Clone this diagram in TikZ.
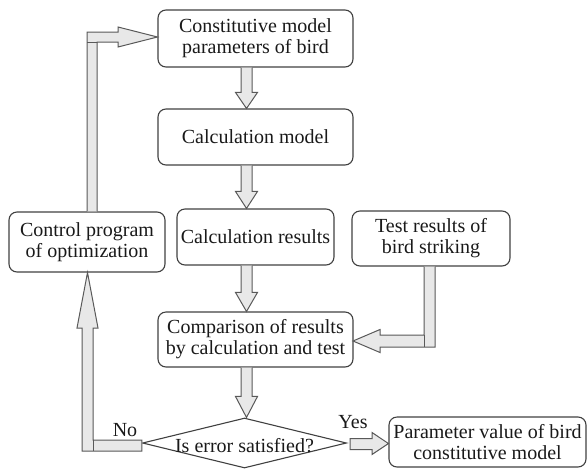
\documentclass[tikz,border=0pt]{standalone}
\usepackage{fontspec}
\setmainfont{Liberation Serif}
\usetikzlibrary{shapes.geometric,calc}
\begin{document}
\begin{tikzpicture}[x=1pt,y=-1pt,
  box/.style={draw=black!75,line width=1.1pt,rounded corners=8pt,align=center,inner sep=0pt,
    font=\fontsize{20}{21}\selectfont,text=black!90},
  dia/.style={draw=black!75,line width=1.1pt,diamond,aspect=4.08,inner sep=0pt,
    minimum width=204pt,minimum height=50pt,font=\fontsize{20}{21}\selectfont,text=black!90},
  blk/.style={draw=black!65,fill=black!9,line width=1pt,line join=miter},
  sep/.style={draw=black!65,line width=1pt},
  lbl/.style={font=\fontsize{20}{21}\selectfont,text=black!90,inner sep=0pt}]
\useasboundingbox (0,0) rectangle (588,469);
\node[box,minimum width=195pt,minimum height=57pt] (b1) at (255.5,38.5) {Constitutive model\\parameters of bird};
\node[box,minimum width=195pt,minimum height=56pt] (b2) at (255.5,137) {Calculation model};
\node[box,minimum width=157pt,minimum height=56pt] (b3) at (255.5,237) {Calculation results};
\node[box,minimum width=156pt,minimum height=60pt] (ctrl) at (87,242) {Control program\\of optimization};
\node[box,minimum width=158pt,minimum height=55pt] (test) at (431,238.5) {Test results of\\bird striking};
\node[box,minimum width=195pt,minimum height=55pt] (comp) at (255.5,339.5) {Comparison of results\\by calculation and test};
\node[dia] (err) at (244.5,443) {};
\node[lbl] (errt) at (244.5,446) {Is error satisfied?};
\node[box,minimum width=197pt,minimum height=50pt] (par) at (487.5,442) {Parameter value of bird\\constitutive model};
\node[lbl] (no) at (125,430) {No};
\node[lbl] (yes) at (353,422) {Yes};
\coordinate (ax) at (246.5,0);
% vertical block arrows
\foreach \s/\t/\h in {b1/b2/16,b2/b3/17,b3/comp/19,comp/err/21}{
  \draw[blk] let \p1=(ax |- \s.south), \p2=(ax |- \t.north) in
    (\x1-5.5pt,\y1) -- (\x1-5.5pt,\y2+\h pt) -- (\x1-11pt,\y2+\h pt) -- (\x2,\y2)
    -- (\x1+11pt,\y2+\h pt) -- (\x1+5.5pt,\y2+\h pt) -- (\x1+5.5pt,\y1);
}
% test -> comparison
\draw[blk] let \p1=(test.south), \p2=(comp.east) in
  (424,\y1) -- (424,335) -- (380,335) -- (380,329.5) -- (353,341) -- (380,352.5)
  -- (380,347) -- (435,347) -- (435,\y1);
\draw[sep] (424,335) -- (424,347);
% No: diamond -> control
\draw[blk] let \p1=(err.west), \p2=(ctrl.south) in
  (\x1,440) -- (93,440) -- (93,328) -- (98,328) -- (87.5,\y2) -- (77,328) -- (82,328)
  -- (82,451) -- (\x1,451) -- cycle;
\draw[sep] (93,440) -- (93,451);
% control -> constitutive
\draw[blk] let \p1=(ctrl.north), \p2=(b1.west) in
  (87,\y1) -- (87,32) -- (118,32) -- (118,27) -- (\x2,37) -- (118,47) -- (118,42)
  -- (97,42) -- (97,\y1);
\draw[sep] (87,42) -- (97,42);
% Yes: diamond -> parameter
\draw[blk] let \p1=(err.east), \p2=(par.west) in
  (\x1+3pt,438.5) -- (372,438.5) -- (372,432.5) -- (\x2,443.5) -- (372,454.5)
  -- (372,449.5) -- (\x1+3pt,449.5) -- cycle;
\end{tikzpicture}
\end{document}
